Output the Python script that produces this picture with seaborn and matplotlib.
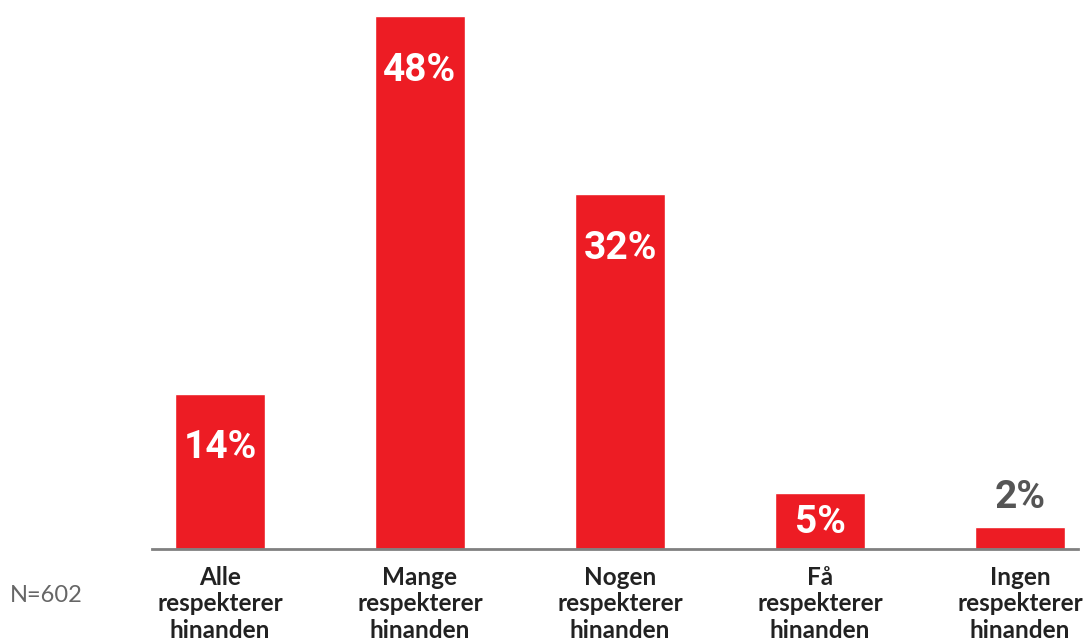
import matplotlib
matplotlib.use("Agg")
import matplotlib.pyplot as plt
import seaborn as sns
import pandas as pd

categories = ["Alle\nrespekterer\nhinanden", "Mange\nrespekterer\nhinanden",
              "Nogen\nrespekterer\nhinanden", "Få\nrespekterer\nhinanden",
              "Ingen\nrespekterer\nhinanden"]
values = [14, 48, 32, 5, 2]
value_labels = ["14%", "48%", "32%", "5%", "2%"]
note = "N=602"

sns.set_theme(style="white")
plt.rcParams['font.family'] = ['Lato', 'DejaVu Sans']

df = pd.DataFrame({"cat": categories, "val": values})

fig = plt.figure(figsize=(10.91, 6.42), dpi=100)
ax = fig.add_axes([152/1091, 1 - 549/642, 926/1091, (549-16)/642])
sns.barplot(data=df, x="cat", y="val", color="#ed1c24", width=0.45,
            saturation=1, ax=ax)

ax.set_xlim(-0.34, 4.29)
ax.set_ylim(0, 48)
for s in ["top", "right", "left"]:
    ax.spines[s].set_visible(False)
ax.spines["bottom"].set_color("#808080")
ax.spines["bottom"].set_linewidth(2)
ax.set_yticks([])
ax.set_xlabel("")
ax.set_ylabel("")
ax.tick_params(axis="x", length=0, pad=12)
for lbl in ax.get_xticklabels():
    lbl.set_fontweight("bold")
    lbl.set_fontsize(17.5)
    lbl.set_color("#222222")
    lbl.set_linespacing(1.2)

vfam = ["Roboto", "DejaVu Sans"]
for i, (v, t) in enumerate(zip(values, value_labels)):
    if v >= 10:
        ax.text(i, v - 4.9, t, ha="center", va="center", color="white",
                fontsize=28, fontweight="bold", family=vfam)
    elif v >= 4:
        ax.text(i, v - 2.6, t, ha="center", va="center", color="white",
                fontsize=28, fontweight="bold", family=vfam)
    else:
        ax.text(i, v + 2.6, t, ha="center", va="center", color="#555555",
                fontsize=28, fontweight="bold", family=vfam)

fig.text(10/1091, 1 - 595/642, note, ha="left", va="center",
         fontsize=17, color="#666666")

fig.savefig("out.png", dpi=100)
